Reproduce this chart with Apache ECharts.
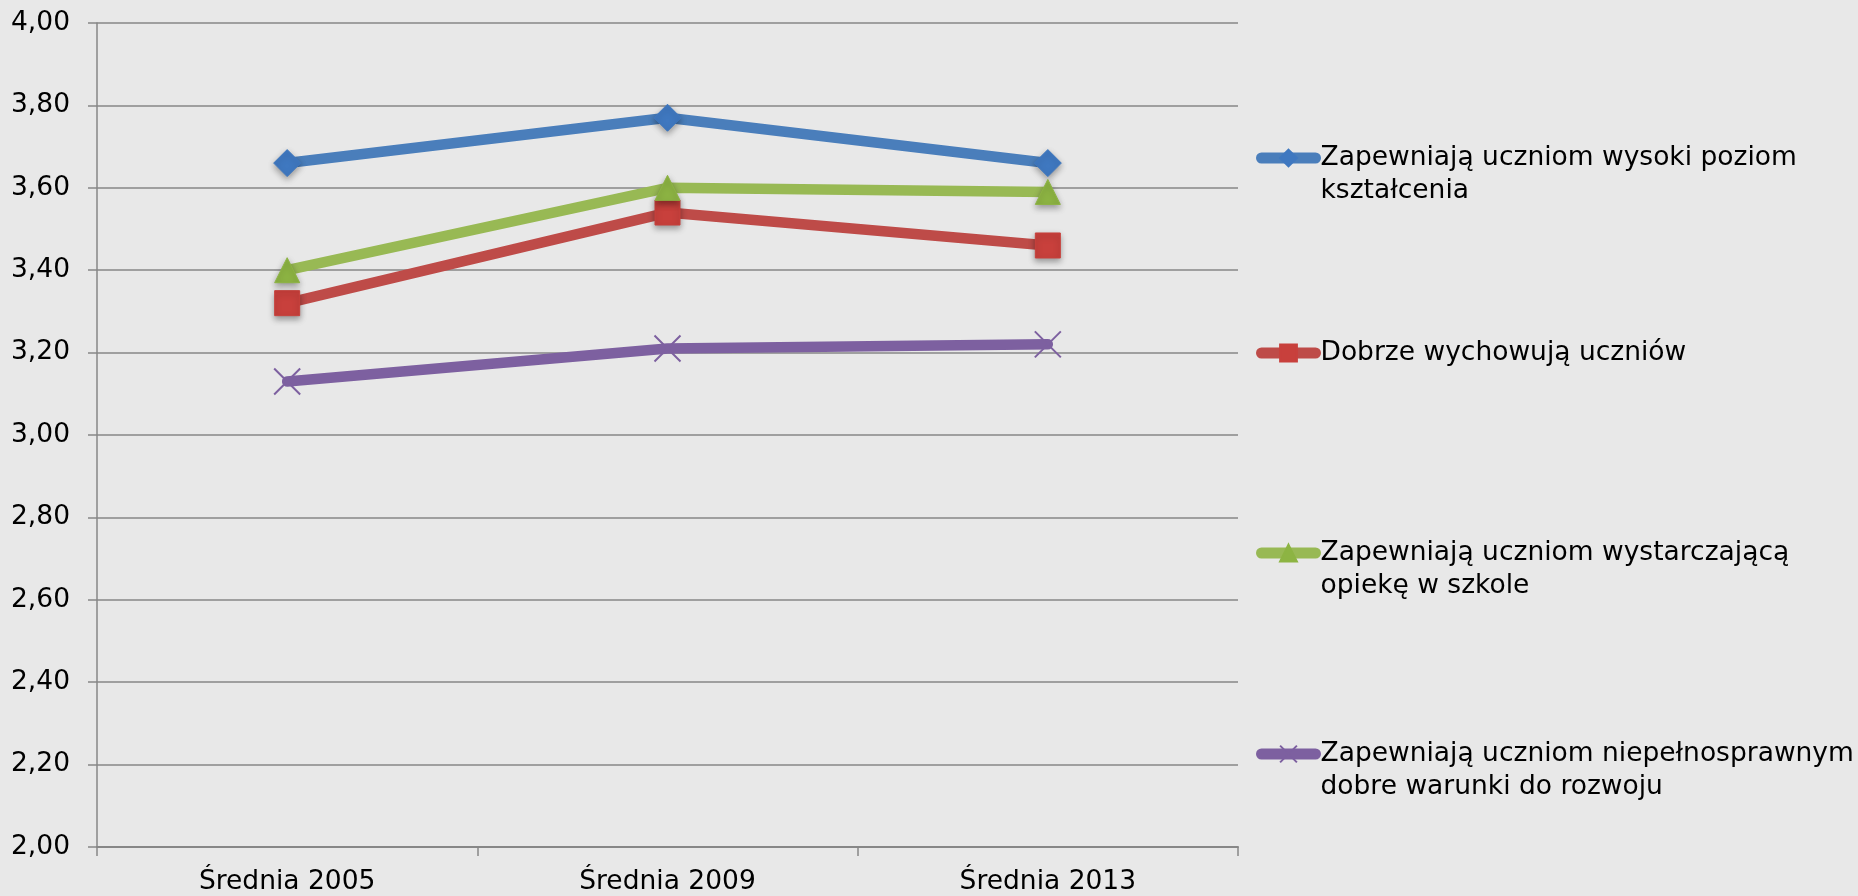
<!DOCTYPE html>
<html>
<head>
<meta charset="utf-8">
<script src="https://cdn.jsdelivr.net/npm/echarts@6/dist/echarts.min.js"></script>
<style>
html,body{margin:0;padding:0;background:#e8e8e8;}
#chart{width:1858px;height:896px;}
</style>
</head>
<body>
<div id="chart"></div>
<script>
const categories = ['Średnia 2005', 'Średnia 2009', 'Średnia 2013'];
const seriesNames = [
  'Zapewniają uczniom wysoki poziom\nkształcenia',
  'Dobrze wychowują uczniów',
  'Zapewniają uczniom wystarczającą\nopiekę w szkole',
  'Zapewniają uczniom niepełnosprawnym\ndobre warunki do rozwoju'
];
const valuesPoziom = [3.66, 3.77, 3.66];
const valuesWychowanie = [3.32, 3.54, 3.46];
const valuesOpieka = [3.40, 3.60, 3.59];
const valuesNiepelnosprawni = [3.13, 3.21, 3.22];
const yMin = 2.0, yMax = 4.0, yStep = 0.2;

const lineColors = ['#4A7EBB', '#BE4B48', '#98B954', '#7D60A0'];
const markerColors = ['#3F78C0', '#C8403C', '#8DB443', '#7D60A0'];
const symbols = ['diamond', 'rect', 'triangle', 'path://M0,0L10,10M10,0L0,10'];
const allValues = [valuesPoziom, valuesWychowanie, valuesOpieka, valuesNiepelnosprawni];

const FONT = '"DejaVu Sans", Verdana, sans-serif';
const legendCenters = [158, 353, 553, 754];
const LH = 33;

const series = seriesNames.map((name, i) => ({
  name: name,
  type: 'line',
  data: allValues[i],
  symbol: symbols[i],
  symbolSize: i === 3 ? 26 : (i === 0 ? 27 : 25),
  lineStyle: { color: lineColors[i], width: 10.5, cap: 'round', join: 'round' },
  itemStyle: i === 3
    ? { color: 'rgba(0,0,0,0)', borderColor: markerColors[i], borderWidth: 2 }
    : { color: markerColors[i], borderColor: markerColors[i], borderWidth: 1,
        shadowColor: 'rgba(0,0,0,0.35)', shadowBlur: 6, shadowOffsetY: 3 },
  emphasis: { disabled: true },
  z: 3 + i,
  animation: false
}));

const legends = seriesNames.map((name, i) => {
  const twoLine = name.indexOf('\n') >= 0;
  const h = twoLine ? 3 * LH : LH;
  return {
    data: [name],
    left: 1256,
    top: legendCenters[i] - h / 2,
    padding: 0,
    itemWidth: 54,
    itemHeight: 21,
    itemGap: 4,
    selectedMode: false,
    orient: 'vertical',
    formatter: n => (n.indexOf('\n') >= 0 ? ' \n' + n : n),
    lineStyle: { width: 11, cap: 'round' },
    itemStyle: { shadowBlur: 0, shadowOffsetY: 0 },
    textStyle: {
      fontFamily: FONT, fontSize: 26.5, color: '#000', lineHeight: LH
    }
  };
});

const chart = echarts.init(document.getElementById('chart'), null, { renderer: 'canvas' });
chart.setOption({
  backgroundColor: '#e8e8e8',
  animation: false,
  grid: { left: 97, right: 620, top: 23, bottom: 48, containLabel: false },
  legend: legends,
  xAxis: {
    type: 'category',
    data: categories,
    boundaryGap: true,
    axisLine: { show: true, lineStyle: { color: '#878787', width: 2 } },
    axisTick: { show: true, length: 9, alignWithLabel: false, lineStyle: { color: '#878787', width: 1.5 } },
    axisLabel: { fontFamily: FONT, fontSize: 26.5, color: '#000', margin: 22 },
    splitLine: { show: false }
  },
  yAxis: {
    type: 'value',
    min: yMin, max: yMax, interval: yStep,
    axisLine: { show: true, lineStyle: { color: '#878787', width: 1.5 } },
    axisTick: { show: true, length: 9, lineStyle: { color: '#878787', width: 1.5 } },
    axisLabel: {
      fontFamily: FONT, fontSize: 26.5, color: '#000', margin: 27,
      formatter: v => v.toFixed(2).replace('.', ',')
    },
    splitLine: { show: true, lineStyle: { color: '#878787', width: 1.5 } }
  },
  series: series
});
</script>
</body>
</html>
